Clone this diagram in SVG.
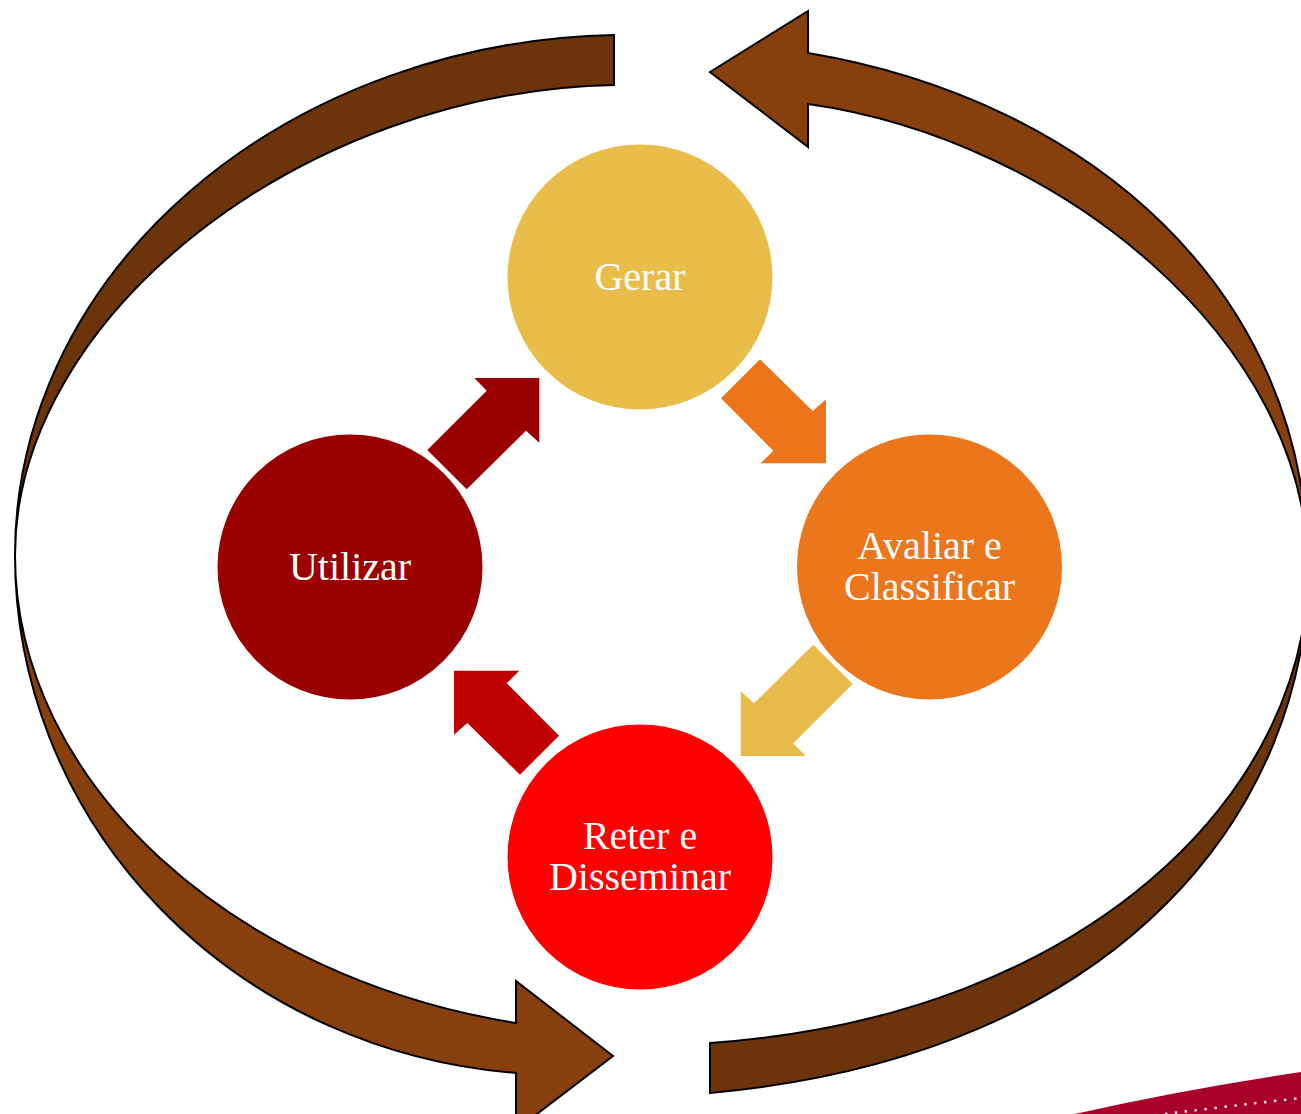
<svg xmlns="http://www.w3.org/2000/svg" width="1301" height="1114" viewBox="0 0 1301 1114">
<style>
.band{stroke:#000;stroke-width:2;stroke-linejoin:miter}
.dark{fill:#6C340B}
.light{fill:#873F0E}
.node circle{stroke:#fff;stroke-width:3}
.lbl{font-family:"Liberation Serif","Times New Roman",serif;font-size:40px;fill:#fff;text-anchor:middle}
</style>
<rect width="1301" height="1114" fill="#fff"/>
<path d="M1075,1114 Q1180,1090 1301,1072 L1301,1114 Z" fill="#A8002A"/>
<path d="M1165,1114 Q1230,1106 1301,1098" fill="none" stroke="#fff" stroke-width="2.5" stroke-dasharray="2.5 7.5" opacity="0.9"/>
<g id="connectors">
  <g id="cycle-left">
    <path class="band dark" d="M614,85 L614,35 A614,520 0 0 0 15,555 C15,315 304,91.2 614,85 Z"/>
    <path class="band light" d="M15,555 A545,519 0 0 0 516,1073 L516,1130 L613,1056 L516,981 L516,1023 C236,978.2 15,785 15,555 Z"/>
  </g>
  <g id="cycle-right">
    <path class="band light" d="M710,72 L808,11 L808,53 C1088,99.8 1308,290 1308,570 C1308,340 1058,139 808,104 L808,147 Z"/>
    <path class="band dark" d="M1308,570 C1308,800 1130,1055.2 710,1093 L710,1043 C1090,1016.4 1308,790 1308,570 Z"/>
  </g>
  <polygon id="arrow-utilizar-gerar" points="539.3,378 474.3,378 486.7,390.7 427.3,450 466.7,489.3 526,430.7 539.3,442.7" fill="#990000"/>
  <polygon id="arrow-gerar-avaliar" points="760,359.3 721,398.3 773.3,450.7 760.7,463.3 826,463.3 826,399.3 812.7,411" fill="#EC751C"/>
  <polygon id="arrow-avaliar-reter" points="740.7,756 805.7,756 793.3,743.3 852.7,684 813.3,644.7 754,703.3 740.7,691.3" fill="#E8BC4A"/>
  <polygon id="arrow-reter-utilizar" points="520,774.7 559,735.7 506.7,683.3 519.3,670.7 454,670.7 454,734.7 467.3,723" fill="#BE0000"/>
</g>
<g id="node-gerar" class="node">
  <circle cx="640" cy="277" r="134" fill="#E8BD4A"/>
  <text class="lbl" x="640" y="290">Gerar</text>
</g>
<g id="node-avaliar" class="node">
  <circle cx="929.5" cy="567" r="134" fill="#EC761C"/>
  <text class="lbl" x="929.5" y="559">Avaliar e</text>
  <text class="lbl" x="929.5" y="600">Classificar</text>
</g>
<g id="node-reter" class="node">
  <circle cx="640" cy="857" r="134" fill="#FF0000"/>
  <text class="lbl" x="640" y="849">Reter e</text>
  <text class="lbl" x="640" y="890">Disseminar</text>
</g>
<g id="node-utilizar" class="node">
  <circle cx="350" cy="567" r="134" fill="#990000"/>
  <text class="lbl" x="350" y="580">Utilizar</text>
</g>
</svg>
